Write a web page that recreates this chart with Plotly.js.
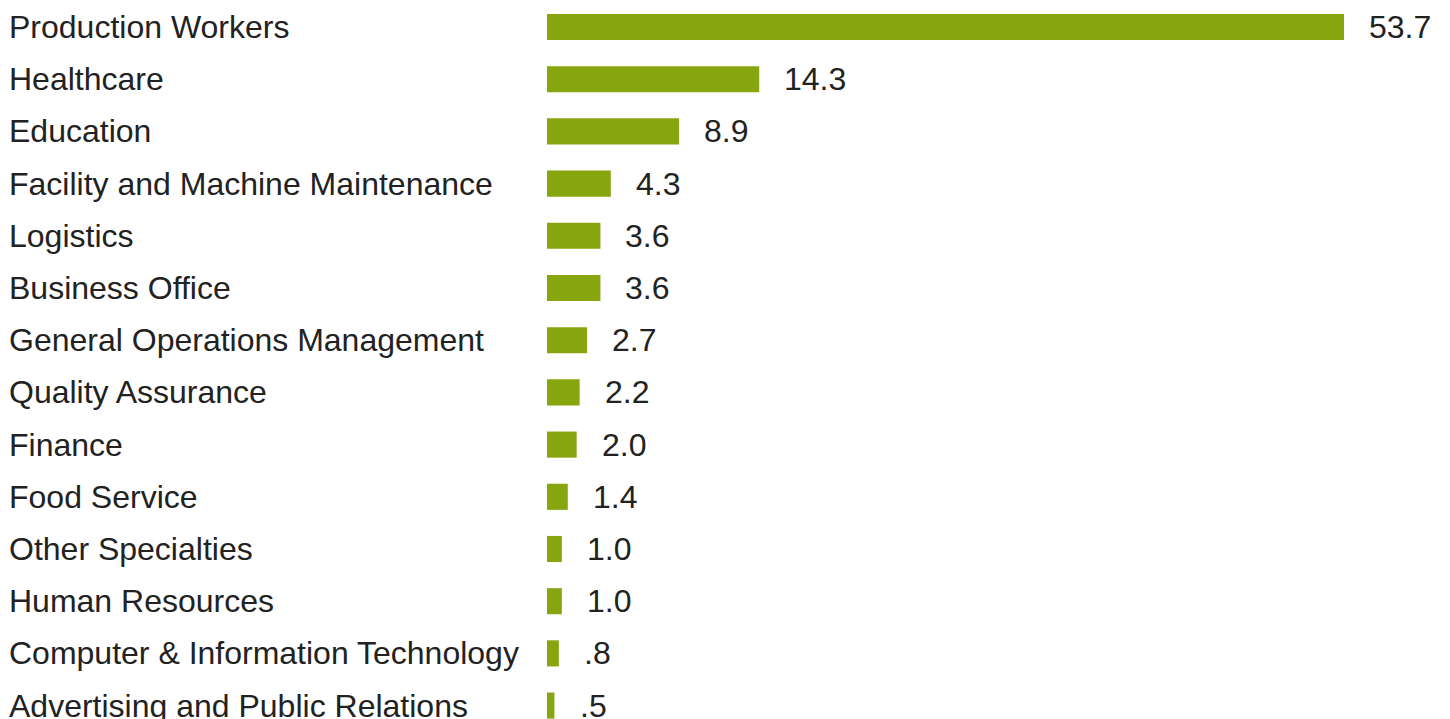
<!DOCTYPE html>
<html>
<head>
<meta charset="utf-8">
<script src="https://cdn.plot.ly/plotly-3.0.1.min.js"></script>
<style>html,body{margin:0;padding:0;background:#fff;}#chart{width:1450px;height:719px;}</style>
</head>
<body>
<div id="chart"></div>
<script>
const categories = [
  "Production Workers",
  "Healthcare",
  "Education",
  "Facility and Machine Maintenance",
  "Logistics",
  "Business Office",
  "General Operations Management",
  "Quality Assurance",
  "Finance",
  "Food Service",
  "Other Specialties",
  "Human Resources",
  "Computer & Information Technology",
  "Advertising and Public Relations"
];
const values = [53.7, 14.3, 8.9, 4.3, 3.6, 3.6, 2.7, 2.2, 2.0, 1.4, 1.0, 1.0, 0.8, 0.5];
const valueLabels = ["53.7", "14.3", "8.9", "4.3", "3.6", "3.6", "2.7", "2.2", "2.0", "1.4", "1.0", "1.0", ".8", ".5"];

const W = 1450, H = 719, L = 547;
const plotW = W - L;
const xMax = 60.84;
const pxPerUnit = plotW / xMax;
const font = {family: "Liberation Sans, Arial, Helvetica, sans-serif", size: 32, color: "#222222"};

const annotations = [];
categories.forEach((c, i) => {
  annotations.push({
    xref: "paper", yref: "y", x: -(L - 7) / plotW, y: c,
    text: c, showarrow: false, xanchor: "left", yanchor: "middle",
    font: font
  });
  const barEndPx = values[i] * pxPerUnit;
  const labelPx = Math.max(barEndPx + 23, 31);
  annotations.push({
    xref: "x", yref: "y", x: labelPx / pxPerUnit, y: c,
    text: valueLabels[i], showarrow: false, xanchor: "left", yanchor: "middle",
    font: font
  });
});

const trace = {
  type: "bar", orientation: "h",
  x: values, y: categories,
  width: 0.5,
  marker: {color: "#86A50F"},
  hoverinfo: "none"
};

const layout = {
  width: W, height: H,
  margin: {l: L, r: 0, t: 0, b: 0, pad: 0},
  paper_bgcolor: "#ffffff", plot_bgcolor: "#ffffff",
  showlegend: false,
  xaxis: {range: [0, xMax], visible: false, fixedrange: true},
  yaxis: {type: "category", categoryarray: categories, range: [13.257, -0.517],
          showticklabels: false, showgrid: false, zeroline: false, showline: false, ticks: ""},
  annotations: annotations
};

Plotly.newPlot("chart", [trace], layout, {displayModeBar: false, staticPlot: true});
</script>
</body>
</html>
